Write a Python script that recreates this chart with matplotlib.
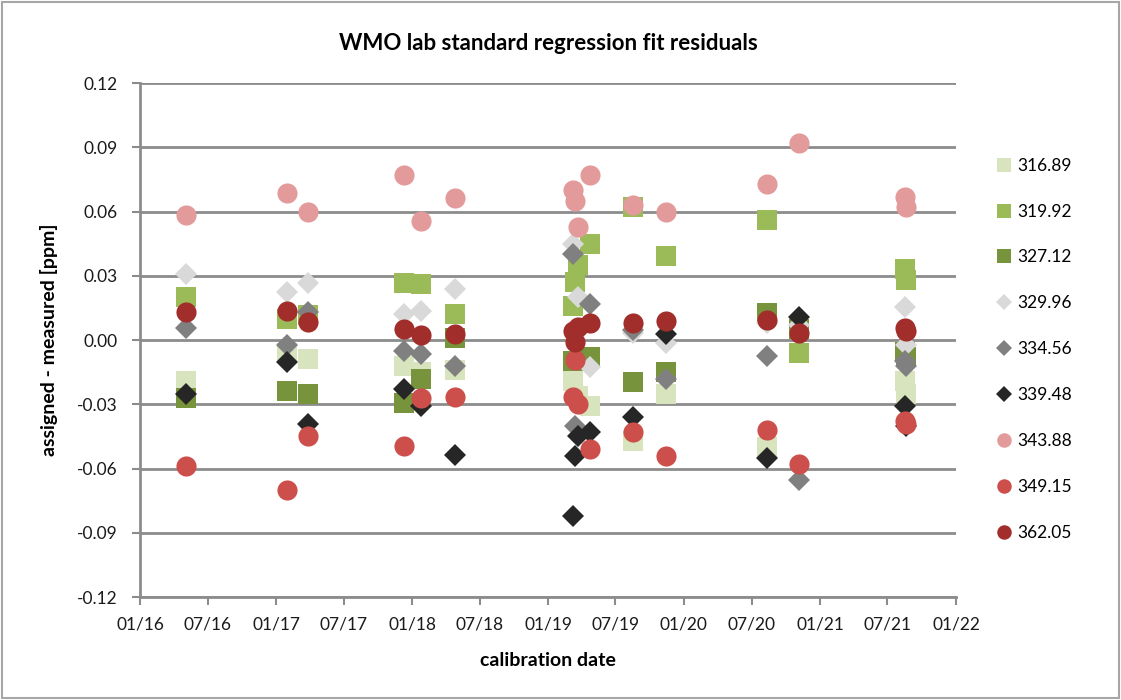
import numpy as np
import matplotlib
matplotlib.use("Agg")
import matplotlib.pyplot as plt
import matplotlib.dates as mdates
from matplotlib.patches import Rectangle

plt.rcParams['font.family'] = ['Lato', 'DejaVu Sans']

nan = np.nan

# calibration dates
dates = ['2016-05-03', '2017-01-29', '2017-03-27', '2017-12-09', '2018-01-24',
         '2018-04-25', '2019-03-08', '2019-03-14', '2019-03-22', '2019-04-23',
         '2019-08-16', '2019-11-15', '2020-08-10', '2020-11-04', '2021-08-18',
         '2021-08-21']

# residuals (assigned - measured, ppm) per lab standard
r_316_89 = [-0.019, -0.006, -0.009, -0.012, -0.015, -0.014, -0.019, nan, -0.026, -0.031,
            -0.047, -0.025, -0.050, nan, -0.019, -0.025]
r_319_92 = [0.020, 0.010, 0.0115, 0.0265, 0.026, 0.012, 0.016, 0.027, 0.035, 0.045,
            0.062, 0.039, 0.056, -0.006, 0.033, 0.028]
r_327_12 = [-0.027, -0.024, -0.0253, -0.0296, -0.018, 0.001, -0.010, nan, nan, -0.008,
            -0.0197, -0.0148, 0.0125, 0.005, -0.0055, -0.008]
r_329_96 = [0.031, 0.0225, 0.0265, 0.012, 0.0136, 0.0237, 0.045, nan, 0.020, -0.0125,
            0.0034, -0.0016, 0.0078, 0.007, 0.0156, -0.0023]
r_334_56 = [0.0055, -0.0023, 0.013, -0.005, -0.0066, -0.012, 0.040, -0.040, nan, 0.017,
            0.0047, -0.018, -0.0075, -0.0655, -0.010, -0.012]
r_339_48 = [-0.025, -0.0103, -0.039, -0.023, -0.031, -0.0535, -0.082, -0.054, -0.045, -0.043,
            -0.036, 0.003, -0.055, 0.0109, -0.031, -0.040]
r_343_88 = [0.0585, 0.0686, 0.0596, 0.0769, 0.0558, 0.0663, 0.070, 0.065, 0.053, 0.077,
            0.063, 0.060, 0.073, 0.092, 0.067, 0.062]
r_349_15 = [-0.059, -0.070, -0.045, -0.0496, -0.027, -0.0265, -0.0265, -0.0094, -0.030, -0.0507,
            -0.043, -0.0543, -0.042, -0.0577, -0.038, -0.039]
r_362_05 = [0.0133, 0.0136, 0.0086, 0.005, 0.0023, 0.0028, 0.004, -0.001, 0.006, 0.008,
            0.008, 0.009, 0.0094, 0.0034, 0.0055, 0.004]

labels = ['316.89', '319.92', '327.12', '329.96', '334.56', '339.48', '343.88', '349.15', '362.05']
series = [r_316_89, r_319_92, r_327_12, r_329_96, r_334_56, r_339_48, r_343_88, r_349_15, r_362_05]
colors = ['#d7e4bd', '#9bbb59', '#77933c', '#d9d9d9', '#808080', '#262626',
          '#e39a9b', '#cd4f4c', '#a12e2b']
markers = ['s', 's', 's', 'D', 'D', 'D', 'o', 'o', 'o']
msizes = [14.0, 14.0, 14.0, 11.0, 11.0, 11.0, 14.5, 14.5, 14.5]

x = mdates.datestr2num(dates)

fig = plt.figure(figsize=(11.21, 7.0), dpi=100)
ax = fig.add_axes([0.1249, 0.1471, 0.7279, 0.7343])

grid_c = '#8c8c8c'
for lab, vals, c, m, ms in zip(labels, series, colors, markers, msizes):
    ax.plot(x, vals, linestyle='none', marker=m, markersize=ms, color=c,
            markeredgewidth=0, label=lab, zorder=3)

ax.set_ylim(-0.12, 0.12)
ax.set_yticks(np.arange(-0.12, 0.1201, 0.03))
ax.yaxis.set_major_formatter(plt.FuncFormatter(lambda v, p: f'{v:.2f}'))
ax.set_xlim(mdates.datestr2num('2016-01-01'), mdates.datestr2num('2022-01-01'))
ax.xaxis.set_major_locator(mdates.MonthLocator(bymonth=[1, 7]))
ax.xaxis.set_major_formatter(mdates.DateFormatter('%m/%y'))

ax.grid(axis='y', color=grid_c, linewidth=2.0, zorder=0)
ax.set_axisbelow(True)
for s in ['top', 'right']:
    ax.spines[s].set_visible(False)
for s in ['left', 'bottom']:
    ax.spines[s].set_color(grid_c)
    ax.spines[s].set_linewidth(2.0)
ax.tick_params(axis='both', colors=grid_c, width=1.5, length=6, labelcolor='#1a1a1a',
               labelsize=12.5)
ax.tick_params(axis='y', pad=10)
ax.tick_params(axis='x', pad=8)

ax.set_title('WMO lab standard regression fit residuals', fontsize=16,
             fontweight='bold', pad=24)
ax.set_ylabel('assigned - measured [ppm]', fontsize=14, fontweight='bold', labelpad=14)
ax.set_xlabel('calibration date', fontsize=14, fontweight='bold', labelpad=14)

handles, lbls = ax.get_legend_handles_labels()
leg = fig.legend(handles, lbls, loc='upper left', bbox_to_anchor=(0.874, 0.797),
                 frameon=False, fontsize=12.5, labelspacing=1.72, handletextpad=0.25,
                 markerscale=0.72, handlelength=1.0)

fig.patches.append(Rectangle((0.002, 0.003), 0.996, 0.994, transform=fig.transFigure,
                             fill=False, edgecolor='#a6a6a6', linewidth=1.5))

fig.savefig('out.png', dpi=100)
